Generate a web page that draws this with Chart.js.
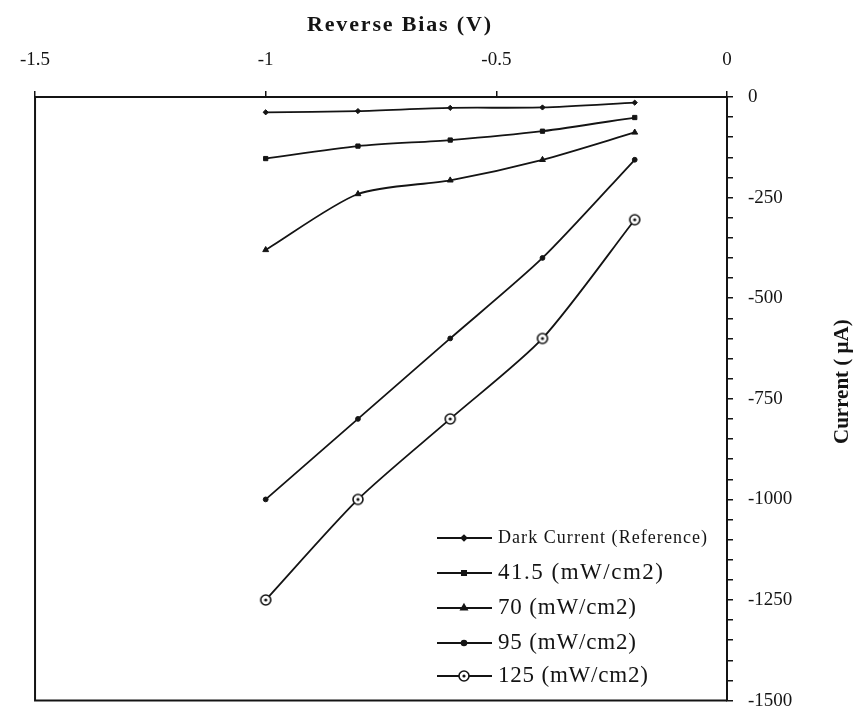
<!DOCTYPE html>
<html>
<head>
<meta charset="utf-8">
<script src="https://cdn.jsdelivr.net/npm/chart.js@4/dist/chart.umd.min.js"></script>
<style>
html,body{margin:0;padding:0;background:#fff;overflow:hidden;}
#wrap{width:856px;height:727px;}
canvas{display:block;}
</style>
</head>
<body>
<div id="wrap"><canvas id="c" width="856" height="727"></canvas></div>
<script>
// ---- data ----
const voltage = [-1, -0.8, -0.6, -0.4, -0.2];
const darkCurrent = [-38, -35, -27, -26, -14];
const p41_5 = [-153, -122, -107, -85, -51];
const p70 = [-380, -241, -207, -156, -88];
const p95 = [-1000, -800, -600, -400, -156];
const p125 = [-1250, -1000, -800, -600, -305];
const seriesNames = ['Dark Current (Reference)', '41.5 (mW/cm2)', '70 (mW/cm2)', '95 (mW/cm2)', '125 (mW/cm2)'];
const xTitle = 'Reverse Bias (V)';
const yTitle = 'Current ( \u03bcA)';

const INK = '#141414';
const serif = '"Liberation Serif", "Times New Roman", serif';

function ringMarker() {
  const cv = document.createElement('canvas');
  cv.width = 14; cv.height = 14;
  const g = cv.getContext('2d');
  g.fillStyle = '#fff';
  g.strokeStyle = INK;
  g.lineWidth = 1.6;
  g.beginPath(); g.arc(7, 7, 5, 0, Math.PI * 2); g.fill(); g.stroke();
  g.fillStyle = INK;
  g.beginPath(); g.arc(7, 7, 1.6, 0, Math.PI * 2); g.fill();
  return cv;
}
const ring = ringMarker();

const styles = [
  {pointStyle: 'rectRot', radius: 2.6},
  {pointStyle: 'rect', radius: 3},
  {pointStyle: 'triangle', radius: 3.4},
  {pointStyle: 'circle', radius: 2.4},
  {pointStyle: ring, radius: 7}
];
const allSeries = [darkCurrent, p41_5, p70, p95, p125];

const datasets = allSeries.map((vals, i) => ({
  label: seriesNames[i],
  data: vals.map((v, k) => ({x: voltage[k], y: v})),
  borderColor: INK,
  backgroundColor: INK,
  borderWidth: 1.8,
  pointStyle: styles[i].pointStyle,
  pointRadius: styles[i].radius,
  pointBackgroundColor: INK,
  pointBorderColor: INK,
  pointBorderWidth: 1,
  tension: 0.25,
  fill: false
}));

function fitText(ctx, text, x, y, width) {
  ctx.letterSpacing = '0px';
  const w = ctx.measureText(text).width;
  const sp = Math.max(0, (width - w) / Math.max(1, text.length - 1));
  ctx.letterSpacing = sp.toFixed(2) + 'px';
  ctx.fillText(text, x, y);
  ctx.letterSpacing = '0px';
}

const decor = {
  id: 'decor',
  beforeDraw(chart) {
    const ctx = chart.ctx;
    ctx.save();
    ctx.fillStyle = '#fff';
    ctx.fillRect(0, 0, chart.width, chart.height);
    ctx.restore();
  },
  afterDraw(chart) {
    const ctx = chart.ctx;
    const a = chart.chartArea;
    ctx.save();
    ctx.strokeStyle = INK;
    ctx.lineWidth = 2;
    ctx.beginPath();
    ctx.moveTo(a.left, a.top); ctx.lineTo(a.left, a.bottom); ctx.lineTo(a.right, a.bottom);
    ctx.stroke();

    ctx.fillStyle = INK;
    ctx.font = 'bold 22px ' + serif;
    ctx.textAlign = 'left';
    ctx.textBaseline = 'middle';
    fitText(ctx, xTitle, 307, 25, 184);
    ctx.save();
    ctx.translate(843, 387);
    ctx.rotate(-Math.PI / 2);
    ctx.font = 'bold 21px ' + serif;
    fitText(ctx, yTitle, -57, 0, 114);
    ctx.restore();

    const rowsY = [538, 573, 608, 643, 676];
    const widths = [209, 165, 138, 138, 150];
    chart.data.datasets.forEach((ds, i) => {
      const y = rowsY[i];
      ctx.strokeStyle = INK;
      ctx.lineWidth = 1.8;
      ctx.beginPath(); ctx.moveTo(437, y); ctx.lineTo(492, y); ctx.stroke();
      Chart.helpers.drawPoint(ctx, {
        pointStyle: ds.pointStyle,
        radius: ds.pointRadius,
        borderWidth: 1,
        rotation: 0
      }, 464, y);
      ctx.fillStyle = INK;
      ctx.font = (i === 0 ? '18px ' : '23px ') + serif;
      ctx.textAlign = 'left';
      ctx.textBaseline = 'middle';
      fitText(ctx, ds.label, 498, y, widths[i]);
    });
    ctx.restore();
  }
};

const pad = {left: 30, bottom: 13, top: 0, right: 0};
const chart = new Chart(document.getElementById('c'), {
  type: 'line',
  data: {datasets},
  options: {
    responsive: false,
    animation: false,
    layout: {padding: pad},
    plugins: {legend: {display: false}, tooltip: {enabled: false}},
    scales: {
      x: {
        type: 'linear',
        position: 'top',
        min: -1.5, max: 0,
        afterFit(s) { s.height = 97; },
        ticks: {stepSize: 0.5, color: INK, font: {family: serif, size: 19}, padding: 20, autoSkip: false, maxRotation: 0,
          callback: (v) => String(Math.round(v * 10) / 10)},
        grid: {drawOnChartArea: false, drawTicks: true, tickLength: 6, color: INK, lineWidth: 1.5},
        border: {display: true, color: INK, width: 2}
      },
      y: {
        type: 'linear',
        position: 'right',
        min: -1500, max: 0,
        afterFit(s) { s.width = 129; },
        ticks: {
          stepSize: 50, autoSkip: false, color: INK,
          font: {family: serif, size: 19}, padding: 15,
          callback: (v) => (Math.round(v) % 250 === 0 ? String(Math.round(v)) : '')
        },
        grid: {drawOnChartArea: false, drawTicks: true, tickLength: 6, color: INK, lineWidth: 1.5},
        border: {display: true, color: INK, width: 2}
      }
    }
  },
  plugins: [decor]
});

// pin the plot area to the reference frame
const target = {left: 30, top: 97, right: 727, bottom: 714};
for (let it = 0; it < 4; it++) {
  const ca = chart.chartArea;
  const dl = target.left - ca.left, dt = target.top - ca.top;
  const dr = ca.right - target.right, db = ca.bottom - target.bottom;
  if (Math.abs(dl) + Math.abs(dt) + Math.abs(dr) + Math.abs(db) < 0.5) break;
  pad.left += dl; pad.top += dt; pad.right += dr; pad.bottom += db;
  chart.options.layout.padding = Object.assign({}, pad);
  chart.update();
}
</script>
</body>
</html>
